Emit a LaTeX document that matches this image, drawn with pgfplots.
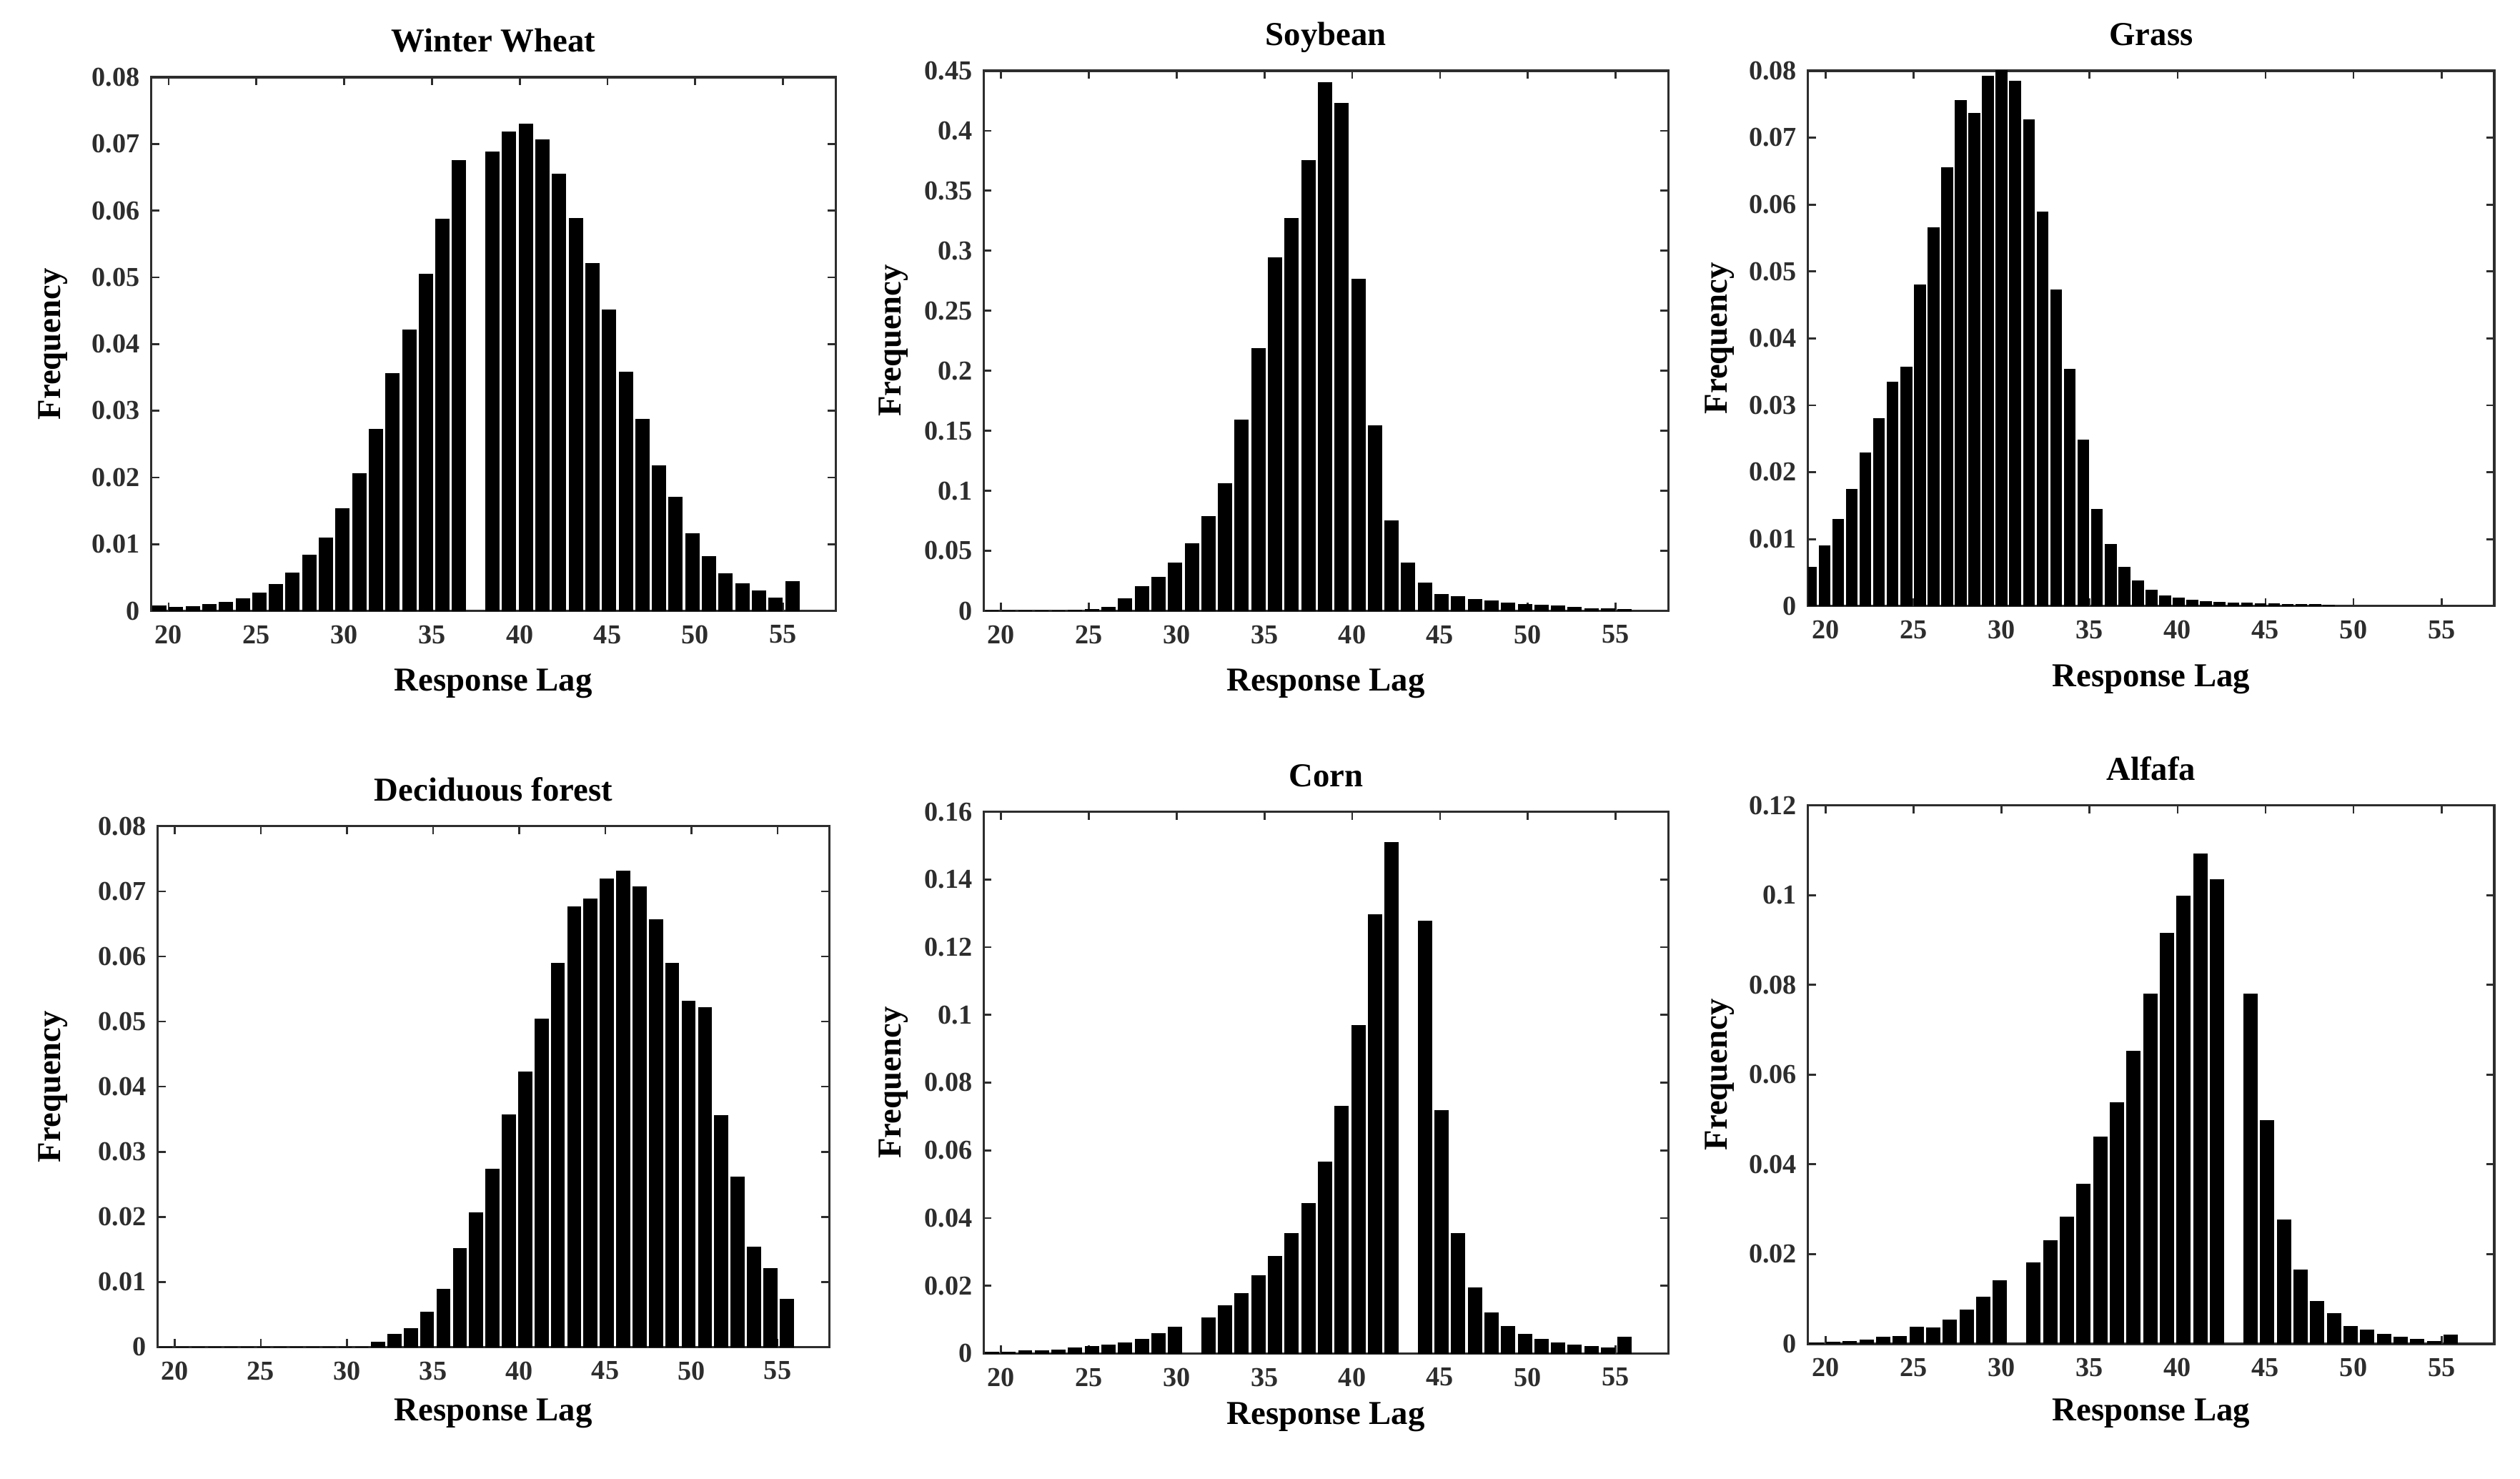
\documentclass[border=0pt]{standalone}
\usepackage{fontspec}
\setmainfont{Liberation Serif}
\usepackage{pgfplots}
\usepackage{pgfplotstable}
\pgfplotsset{compat=1.18}
\definecolor{axgray}{RGB}{45,45,45}

\pgfplotstableread{
x y
19.474 0.0007
20.423 0.0005
21.372 0.0006
22.321 0.0009
23.269 0.0013
24.218 0.0018
25.167 0.0027
26.115 0.0039
27.064 0.0057
28.013 0.0083
28.962 0.0109
29.910 0.0153
30.859 0.0206
31.808 0.0272
32.756 0.0356
33.705 0.0421
34.654 0.0505
35.603 0.0587
36.551 0.0675
38.449 0.0688
39.397 0.0718
40.346 0.0730
41.295 0.0706
42.244 0.0655
43.192 0.0588
44.141 0.0521
45.090 0.0451
46.038 0.0358
46.987 0.0287
47.936 0.0217
48.885 0.0170
49.833 0.0116
50.782 0.0081
51.731 0.0056
52.679 0.0041
53.628 0.0030
54.577 0.0019
55.526 0.0044
}\wheat

\pgfplotstableread{
x y
19.474 0
20.423 0
21.372 0
22.321 0
23.269 0
24.218 0.0003
25.167 0.0010
26.115 0.0030
27.064 0.0100
28.013 0.0200
28.962 0.0280
29.910 0.0400
30.859 0.0560
31.808 0.0785
32.756 0.1057
33.705 0.1590
34.654 0.2186
35.603 0.2944
36.551 0.3266
37.500 0.3752
38.449 0.4399
39.397 0.4227
40.346 0.2760
41.295 0.1543
42.244 0.0750
43.192 0.0398
44.141 0.0230
45.090 0.0138
46.038 0.0119
46.987 0.0096
47.936 0.0080
48.885 0.0065
49.833 0.0054
50.782 0.0046
51.731 0.0038
52.679 0.0031
53.628 0.0019
54.577 0.0015
55.526 0.0011
}\soy

\pgfplotstableread{
x y
19.160 0.0058
19.934 0.0090
20.709 0.0129
21.483 0.0174
22.258 0.0229
23.032 0.0280
23.806 0.0335
24.581 0.0357
25.355 0.0480
26.130 0.0565
26.904 0.0655
27.678 0.0755
28.453 0.0736
29.227 0.0792
30.002 0.0800
30.776 0.0784
31.550 0.0727
32.325 0.0589
33.099 0.0472
33.874 0.0354
34.648 0.0248
35.422 0.0144
36.197 0.0092
36.971 0.0058
37.746 0.0038
38.520 0.0024
39.294 0.0015
40.069 0.0012
40.843 0.0009
41.618 0.0007
42.392 0.0005
43.166 0.0004
43.941 0.0004
44.715 0.0003
45.490 0.0003
46.264 0.0002
47.038 0.0002
47.813 0.0002
48.587 0.0001
}\grass

\pgfplotstableread{
x y
19.474 0
20.423 0
21.372 0
22.321 0
23.269 0
24.218 0
25.167 0
26.115 0
27.064 0
28.013 0
28.962 0
29.910 0
30.859 0
31.808 0.0007
32.756 0.0019
33.705 0.0028
34.654 0.0053
35.603 0.0089
36.551 0.0151
37.500 0.0206
38.449 0.0273
39.397 0.0357
40.346 0.0422
41.295 0.0504
42.244 0.0589
43.192 0.0676
44.141 0.0688
45.090 0.0719
46.038 0.0731
46.987 0.0707
47.936 0.0656
48.885 0.0589
49.833 0.0531
50.782 0.0521
51.731 0.0355
52.679 0.0261
53.628 0.0153
54.577 0.0120
55.526 0.0073
}\forest

\pgfplotstableread{
x y
19.474 0.0003
20.423 0.0004
21.372 0.0007
22.321 0.0008
23.269 0.0011
24.218 0.0017
25.167 0.0020
26.115 0.0024
27.064 0.0032
28.013 0.0042
28.962 0.0059
29.910 0.0078
31.808 0.0105
32.756 0.0140
33.705 0.0177
34.654 0.0229
35.603 0.0287
36.551 0.0355
37.500 0.0442
38.449 0.0566
39.397 0.0731
40.346 0.0969
41.295 0.1296
42.244 0.1508
44.141 0.1276
45.090 0.0718
46.038 0.0354
46.987 0.0194
47.936 0.0119
48.885 0.0080
49.833 0.0056
50.782 0.0042
51.731 0.0032
52.679 0.0024
53.628 0.0021
54.577 0.0017
55.526 0.0049
}\corn

\pgfplotstableread{
x y
19.474 0.0002
20.423 0.0003
21.372 0.0005
22.321 0.0008
23.269 0.0015
24.218 0.0017
25.167 0.0037
26.115 0.0035
27.064 0.0053
28.013 0.0075
28.962 0.0104
29.910 0.0141
31.808 0.0181
32.756 0.0230
33.705 0.0283
34.654 0.0356
35.603 0.0460
36.551 0.0537
37.500 0.0652
38.449 0.0779
39.397 0.0914
40.346 0.0998
41.295 0.1091
42.244 0.1035
44.141 0.0779
45.090 0.0497
46.038 0.0276
46.987 0.0165
47.936 0.0095
48.885 0.0067
49.833 0.0038
50.782 0.0030
51.731 0.0021
52.679 0.0014
53.628 0.0010
54.577 0.0005
55.526 0.0019
}\alfafa

\pgfplotsset{
  hist/.style={
    scale only axis,
    anchor=south west,
    xmin=19, xmax=58, ymin=0,
    xtick={20,25,...,55},
    axis line style={axgray, line width=0.7pt},
    every tick/.style={axgray, line width=0.6pt},
    major tick length=2.5pt,
    tick align=inside,
    tick label style={font=\fontsize{8.5}{9}\selectfont\bfseries, text=axgray},
    /pgf/number format/assume math mode=true,
    scaled y ticks=false,
    yticklabel style={/pgf/number format/fixed, /pgf/number format/precision=3},
    xticklabel style={yshift=-1pt},
    xlabel={Response Lag}, ylabel={Frequency},
    label style={font=\fontsize{10.4}{12}\selectfont\bfseries},
    title style={font=\fontsize{10.4}{12}\selectfont\bfseries, at={(axis description cs:0.5,1)}, anchor=base, yshift=1.8pt},
  },
  barsA/.style={ybar, bar width=0.759, fill=black, draw=black, line width=0.3pt},
  barsG/.style={ybar, bar width=0.62, fill=black, draw=black, line width=0.3pt},
}

\begin{document}
\begin{tikzpicture}
\path (0,0) rectangle (784pt,460pt);

% Winter Wheat
\begin{axis}[hist, at={(47pt,270pt)}, width=213pt, height=166pt,
  ymax=0.08, ytick={0,0.01,0.02,0.03,0.04,0.05,0.06,0.07,0.08},
  title={Winter Wheat},
  xlabel style={at={(axis description cs:0.5,0)}, anchor=base, yshift=-25pt},
  ylabel style={at={([xshift=-30.5pt]axis description cs:0,0.5)}, anchor=center}]
\addplot[barsA] table[x=x,y=y] {\wheat};
\end{axis}

% Soybean
\begin{axis}[hist, at={(306pt,270pt)}, width=213pt, height=168pt,
  ymax=0.45, ytick={0,0.05,0.1,0.15,0.2,0.25,0.3,0.35,0.4,0.45},
  title={Soybean},
  xlabel style={at={(axis description cs:0.5,0)}, anchor=base, yshift=-25pt},
  ylabel style={at={([xshift=-28pt]axis description cs:0,0.5)}, anchor=center}]
\addplot[barsA] table[x=x,y=y] {\soy};
\end{axis}

% Grass
\begin{axis}[hist, at={(562.5pt,271.5pt)}, width=213.5pt, height=166.5pt,
  ymax=0.08, ytick={0,0.01,0.02,0.03,0.04,0.05,0.06,0.07,0.08},
  title={Grass},
  xlabel style={at={(axis description cs:0.5,0)}, anchor=base, yshift=-25pt},
  ylabel style={at={([xshift=-27.5pt]axis description cs:0,0.5)}, anchor=center}]
\addplot[barsG] table[x=x,y=y] {\grass};
\end{axis}

% Deciduous forest
\begin{axis}[hist, at={(49pt,41pt)}, width=209pt, height=162pt,
  ymax=0.08, ytick={0,0.01,0.02,0.03,0.04,0.05,0.06,0.07,0.08},
  title={Deciduous forest},
  xlabel style={at={(axis description cs:0.5,0)}, anchor=base, yshift=-23pt},
  ylabel style={at={([xshift=-32.5pt]axis description cs:0,0.5)}, anchor=center}]
\addplot[barsA] table[x=x,y=y] {\forest};
\end{axis}

% Corn
\begin{axis}[hist, at={(306pt,39pt)}, width=213pt, height=168.5pt,
  ymax=0.16, ytick={0,0.02,0.04,0.06,0.08,0.1,0.12,0.14,0.16},
  title={Corn},
  xlabel style={at={(axis description cs:0.5,0)}, anchor=base, yshift=-22pt},
  ylabel style={at={([xshift=-28pt]axis description cs:0,0.5)}, anchor=center}]
\addplot[barsA] table[x=x,y=y] {\corn};
\end{axis}

% Alfafa
\begin{axis}[hist, at={(562.5pt,42pt)}, width=213.5pt, height=167.5pt,
  ymax=0.12, ytick={0,0.02,0.04,0.06,0.08,0.1,0.12},
  title={Alfafa},
  xlabel style={at={(axis description cs:0.5,0)}, anchor=base, yshift=-24pt},
  ylabel style={at={([xshift=-27.5pt]axis description cs:0,0.5)}, anchor=center}]
\addplot[barsA] table[x=x,y=y] {\alfafa};
\end{axis}
\end{tikzpicture}
\end{document}
